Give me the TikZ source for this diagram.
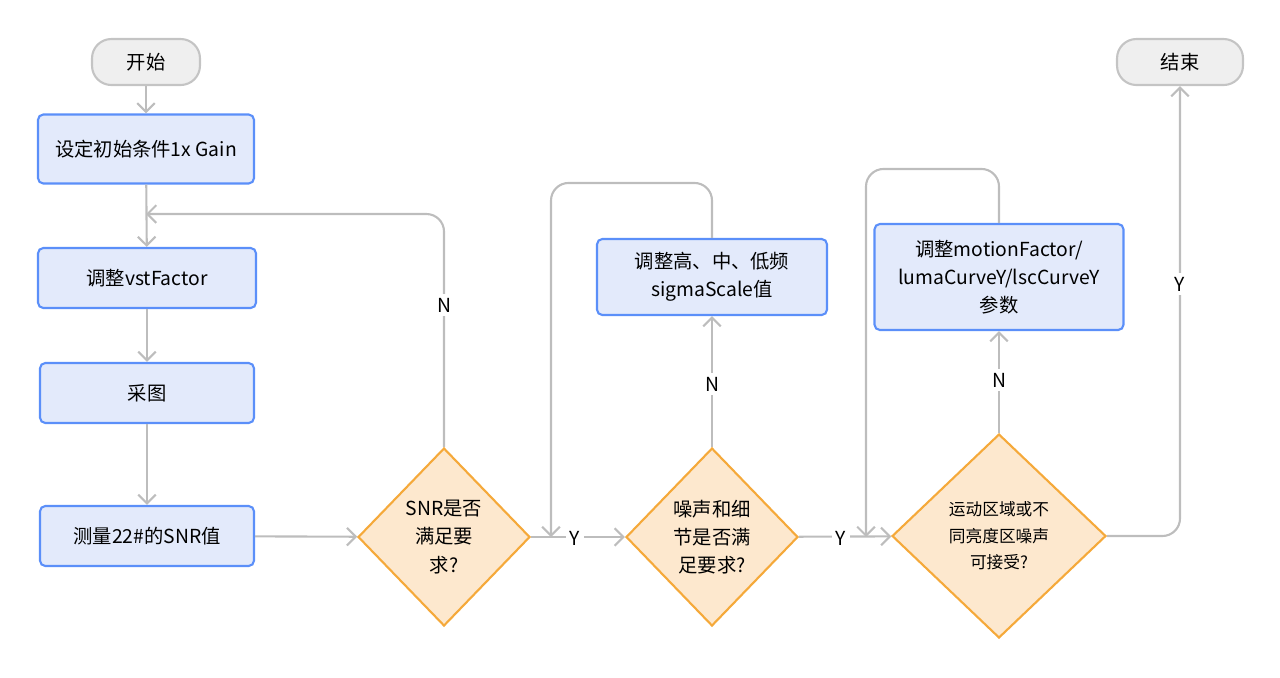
\documentclass[tikz,border=0pt]{standalone}
\usepackage{fontspec}
\setmainfont{Noto Sans CJK SC}
\usetikzlibrary{shapes.geometric,arrows.meta}
\definecolor{boxfill}{HTML}{E3EAFB}
\definecolor{boxline}{HTML}{5B8FF9}
\definecolor{decfill}{HTML}{FDE8CE}
\definecolor{decline}{HTML}{F5A93A}
\definecolor{termfill}{HTML}{EFEFEF}
\definecolor{termline}{HTML}{C4C4C4}
\definecolor{wire}{HTML}{BDBDBD}
\tikzset{
  task/.style={rectangle, rounded corners=3pt, draw=boxline, fill=boxfill, line width=1.2pt, align=center, font=\fontsize{11}{16}\selectfont},
  check/.style={diamond, draw=decline, fill=decfill, line width=1.2pt, align=center, inner sep=0pt, font=\fontsize{11}{16}\selectfont},
  term/.style={rectangle, rounded corners=11pt, draw=termline, fill=termfill, line width=1.2pt, font=\fontsize{11}{14}\selectfont},
  flow/.style={draw=wire, line width=1.2pt, -{Straight Barb[length=5pt,width=10pt]}},
  lbl/.style={fill=white, font=\fontsize{11}{14}\selectfont, inner sep=2pt}
}
\begin{document}
\begin{tikzpicture}[x=0.02cm, y=-0.02cm]
  \useasboundingbox (0,0) rectangle (1280,677);
  % Nodes
  \node (start) [term, minimum width=2.16cm, minimum height=0.92cm] at (146,62) {开始};
  \node (init) [task, minimum width=4.32cm, minimum height=1.38cm] at (146,149) {设定初始条件1x Gain};
  \node (vst) [task, minimum width=4.36cm, minimum height=1.2cm] at (147,278) {调整vstFactor};
  \node (grab) [task, minimum width=4.28cm, minimum height=1.2cm] at (147,393) {采图};
  \node (snr) [task, minimum width=4.28cm, minimum height=1.2cm] at (147,536) {测量22\#的SNR值};
  \node (d-snr) [check, minimum width=3.44cm, minimum height=3.56cm] at (444,537) {SNR是否\\满足要\\求?};
  \node (d-det) [check, minimum width=3.44cm, minimum height=3.56cm] at (712,537) {噪声和细\\节是否满\\足要求?};
  \node (d-mot) [check, minimum width=4.28cm, minimum height=4.08cm, font=\fontsize{9.5}{15}\selectfont] at (999,536) {运动区域或不\\同亮度区噪声\\可接受?};
  \node (sigma) [task, minimum width=4.6cm, minimum height=1.52cm] at (712,277) {调整高、中、低频\\sigmaScale值};
  \node (motion) [task, minimum width=4.98cm, minimum height=2.12cm] at (999,277) {调整motionFactor/\\lumaCurveY/lscCurveY\\参数};
  \node (end) [term, minimum width=2.52cm, minimum height=0.92cm] at (1180,62) {结束};
  \coordinate (j1) at (146,214);
  \coordinate (j2) at (551,537);
  \coordinate (j3) at (866,537);
  % Arrows
  \draw[flow] (start) -- (init);
  \draw[flow] (init) -- (vst);
  \draw[flow] (vst) -- (grab);
  \draw[flow] (grab) -- (snr);
  \draw[flow] (snr) -- (d-snr);
  \draw[flow, rounded corners=10pt] (d-snr.north) |- (j1);
  \draw[flow] (d-snr) -- (d-det);
  \draw[flow] (d-det) -- (sigma);
  \draw[flow, rounded corners=10pt] (sigma.north) -- ++(0,-55) -| (j2);
  \draw[flow] (d-det) -- (d-mot);
  \draw[flow] (d-mot) -- (motion);
  \draw[flow, rounded corners=10pt] (motion.north) -- ++(0,-54) -| (j3);
  \draw[flow, rounded corners=10pt] (d-mot.east) -| (end.south);
  % Labels
  \node (n1) [lbl] at (444,305) {N};
  \node (y1) [lbl] at (575,538) {Y};
  \node (n2) [lbl] at (712,384) {N};
  \node (y2) [lbl] at (841,538) {Y};
  \node (n3) [lbl] at (999,380) {N};
  \node (y3) [lbl] at (1180,284) {Y};
\end{tikzpicture}
\end{document}
